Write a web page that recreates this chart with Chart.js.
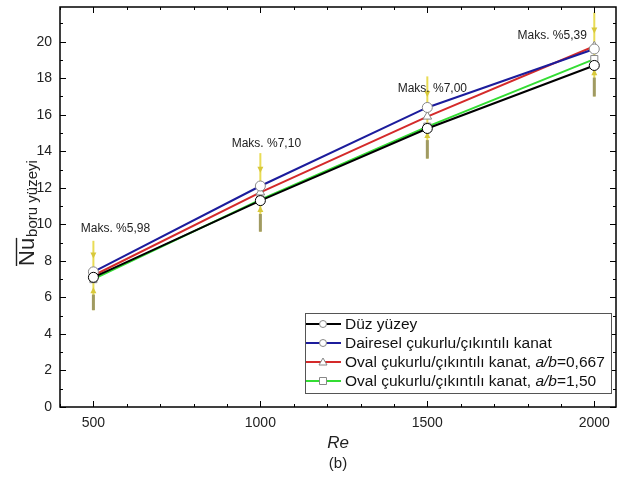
<!DOCTYPE html>
<html>
<head>
<meta charset="utf-8">
<script src="https://cdn.jsdelivr.net/npm/chart.js@4"></script>
<style>
  html, body { margin: 0; padding: 0; background: #fff; }
  #wrap { width: 622px; height: 480px; }
</style>
</head>
<body>
<div id="wrap"><canvas id="nuChart" width="622" height="480"></canvas></div>
<script>
// Re values and Nu for each surface
const reynolds = [500, 1000, 1500, 2000];
const duzYuzey = [7.1, 11.3, 15.25, 18.7];
const daireselKanat = [7.4, 12.1, 16.4, 19.6];
const ovalKanat0667 = [7.2, 11.75, 15.9, 19.75];
const ovalKanat150 = [7.0, 11.35, 15.35, 19.05];

// uncertainty band (yellow bars)
const errLow = [5.3, 9.6, 13.6, 17.0];
const errHigh = [9.1, 13.9, 18.1, 21.6];

const maxLabels = ["Maks. %5,98", "Maks. %7,10", "Maks. %7,00", "Maks. %5,39"];

const xTicks = [500, 1000, 1500, 2000];
const yTicks = [0, 2, 4, 6, 8, 10, 12, 14, 16, 18, 20];

const FONT = "'Liberation Sans', Arial, sans-serif";

function toPoints(values) {
    return reynolds.map((re, i) => ({ x: re, y: values[i] }));
}

function series(label, values, color, style) {
    return {
        label: label,
        data: toPoints(values),
        borderColor: color,
        backgroundColor: "#ffffff",
        borderWidth: 2,
        pointStyle: style,
        pointRadius: 5,
        pointBorderWidth: 1,
        pointBorderColor: color === "#000000" ? "#000000" : "#888",
        showLine: true,
        tension: 0,
    };
}

const datasets = [
    series("Düz yüzey", duzYuzey, "#000000", "circle"),
    series("Dairesel çukurlu/çıkıntılı kanat", daireselKanat, "#1c1c9c", "circle"),
    series("Oval çukurlu/çıkıntılı kanat, a/b=0,667", ovalKanat0667, "#d42a2a", "triangle"),
    series("Oval çukurlu/çıkıntılı kanat, a/b=1,50", ovalKanat150, "#33dd33", "rect"),
];

// yellow error bars with small arrow heads
const errorBars = {
    id: "errorBars",
    beforeDatasetsDraw(chart) {
        const { ctx, scales: { x, y } } = chart;
        ctx.save();
        reynolds.forEach((re, i) => {
            const px = x.getPixelForValue(re);
            const top = y.getPixelForValue(errHigh[i]);
            const bot = y.getPixelForValue(errLow[i]);
            const mid = (top + bot) / 2;
            ctx.strokeStyle = "#e9dc55";
            ctx.lineWidth = 2;
            ctx.beginPath();
            ctx.moveTo(px, top);
            ctx.lineTo(px, bot);
            ctx.stroke();
            // darker lower end
            ctx.strokeStyle = "#a09a62";
            ctx.lineWidth = 3;
            ctx.beginPath();
            ctx.moveTo(px, bot - (bot - mid) * 0.45);
            ctx.lineTo(px, bot);
            ctx.stroke();
            // arrow heads pointing to the centre
            ctx.fillStyle = "#d8c83a";
            const a1 = top + (mid - top) * 0.45;
            const a2 = mid + (bot - mid) * 0.4;
            ctx.beginPath();
            ctx.moveTo(px - 3, a1 - 4); ctx.lineTo(px + 3, a1 - 4); ctx.lineTo(px, a1 + 2);
            ctx.closePath(); ctx.fill();
            ctx.beginPath();
            ctx.moveTo(px - 3, a2 + 4); ctx.lineTo(px + 3, a2 + 4); ctx.lineTo(px, a2 - 2);
            ctx.closePath(); ctx.fill();
        });
        ctx.restore();
    },
};

// frame, inward ticks, axis titles, notes and legend box
const decorations = {
    id: "decorations",
    afterDraw(chart) {
        const { ctx, chartArea: a, scales: { x, y } } = chart;
        ctx.save();
        ctx.strokeStyle = "#000";
        ctx.lineWidth = 1.5;
        ctx.strokeRect(a.left, a.top, a.right - a.left, a.bottom - a.top);

        ctx.lineWidth = 1;
        ctx.beginPath();
        for (let v = 400; v <= 2050; v += 100) {
            const px = Math.round(x.getPixelForValue(v)) + 0.5;
            const len = v % 500 === 0 ? 6 : 3;
            ctx.moveTo(px, a.bottom); ctx.lineTo(px, a.bottom - len);
            ctx.moveTo(px, a.top); ctx.lineTo(px, a.top + len);
        }
        for (let v = 0; v <= 21; v += 1) {
            const py = Math.round(y.getPixelForValue(v)) + 0.5;
            const len = v % 2 === 0 ? 6 : 3;
            ctx.moveTo(a.left, py); ctx.lineTo(a.left + len, py);
            ctx.moveTo(a.right, py); ctx.lineTo(a.right - len, py);
        }
        ctx.stroke();

        // x title
        ctx.fillStyle = "#222";
        ctx.textAlign = "center";
        ctx.textBaseline = "middle";
        ctx.font = "italic 17px " + FONT;
        ctx.fillText("Re", (a.left + a.right) / 2, 443);
        ctx.font = "15px " + FONT;
        ctx.fillText("(b)", (a.left + a.right) / 2, 464);

        // y title: Nu with overline + subscript
        ctx.save();
        ctx.translate(0, 266);
        ctx.rotate(-Math.PI / 2);
        ctx.textAlign = "left";
        ctx.textBaseline = "alphabetic";
        ctx.font = "22px " + FONT;
        const nuW = ctx.measureText("Nu").width;
        ctx.fillText("Nu", 0, 34);
        ctx.lineWidth = 1.4;
        ctx.strokeStyle = "#222";
        ctx.beginPath();
        ctx.moveTo(0, 16.5); ctx.lineTo(nuW, 16.5);
        ctx.stroke();
        ctx.font = "15px " + FONT;
        ctx.fillText("boru yüzeyi", nuW + 1, 37);
        ctx.restore();

        // max deviation notes
        const notes = chart.options.plugins.decorations.notes;
        ctx.font = "12px " + FONT;
        ctx.fillStyle = "#222";
        ctx.textAlign = "center";
        ctx.textBaseline = "middle";
        maxLabels.forEach((t, i) => {
            ctx.fillText(t, x.getPixelForValue(notes.re[i]), y.getPixelForValue(notes.nu[i]));
        });

        // legend box
        const lg = chart.options.plugins.decorations.legend;
        ctx.fillStyle = "#fff";
        ctx.fillRect(lg.left, lg.top, lg.right - lg.left, lg.bottom - lg.top);
        ctx.strokeStyle = "#555";
        ctx.lineWidth = 1;
        ctx.strokeRect(lg.left + 0.5, lg.top + 0.5, lg.right - lg.left, lg.bottom - lg.top);
        ctx.textAlign = "left";
        const lf = "15.5px " + FONT;
        chart.data.datasets.forEach((ds, i) => {
            const ry = lg.top + 11 + i * 19;
            ctx.strokeStyle = ds.borderColor;
            ctx.lineWidth = 2;
            ctx.beginPath();
            ctx.moveTo(lg.left + 1, ry); ctx.lineTo(lg.left + 36, ry);
            ctx.stroke();
            ctx.fillStyle = "#fff";
            ctx.strokeStyle = "#888";
            ctx.lineWidth = 1;
            ctx.beginPath();
            const mx = lg.left + 18;
            if (ds.pointStyle === "circle") ctx.arc(mx, ry, 3.5, 0, Math.PI * 2);
            else if (ds.pointStyle === "triangle") { ctx.moveTo(mx, ry - 4); ctx.lineTo(mx + 4, ry + 3); ctx.lineTo(mx - 4, ry + 3); ctx.closePath(); }
            else ctx.rect(mx - 3.5, ry - 3.5, 7, 7);
            ctx.fill(); ctx.stroke();
            ctx.fillStyle = "#111";
            const parts = ds.label.split("a/b");
            let tx = lg.left + 40;
            ctx.font = lf;
            ctx.fillText(parts[0], tx, ry + 1);
            if (parts.length > 1) {
                tx += ctx.measureText(parts[0]).width;
                ctx.font = "italic " + lf;
                ctx.fillText("a/b", tx, ry + 1);
                tx += ctx.measureText("a/b").width;
                ctx.font = lf;
                ctx.fillText(parts[1], tx, ry + 1);
            }
        });
        ctx.restore();
    },
};

new Chart(document.getElementById("nuChart"), {
    type: "scatter",
    data: { datasets: datasets },
    options: {
        responsive: false,
        animation: false,
        layout: { padding: { left: 0, right: 6, top: 7, bottom: 0 } },
        plugins: {
            legend: { display: false },
            tooltip: { enabled: false },
            decorations: {
                notes: { re: [566, 1018, 1515, 1874], nu: [9.78, 14.43, 17.43, 20.33] },
                legend: { left: 305, top: 313, right: 611, bottom: 393 },
            },
        },
        scales: {
            x: {
                type: "linear",
                min: 400,
                max: 2065,
                afterBuildTicks: s => { s.ticks = xTicks.map(v => ({ value: v })); },
                afterFit: s => { s.height = 73; s.paddingLeft = 0; s.paddingRight = 0; },
                grid: { display: false, drawTicks: false },
                border: { display: false },
                ticks: { padding: 8, color: "#222", font: { family: FONT, size: 14 }, callback: v => String(v) },
            },
            y: {
                type: "linear",
                min: 0,
                max: 21.9,
                afterBuildTicks: s => { s.ticks = yTicks.map(v => ({ value: v })); },
                afterFit: s => { s.width = 60; s.paddingTop = 0; s.paddingBottom = 0; },
                grid: { display: false, drawTicks: false },
                border: { display: false },
                ticks: { padding: 8, color: "#222", font: { family: FONT, size: 14 } },
            },
        },
    },
    plugins: [errorBars, decorations],
});
</script>
</body>
</html>
